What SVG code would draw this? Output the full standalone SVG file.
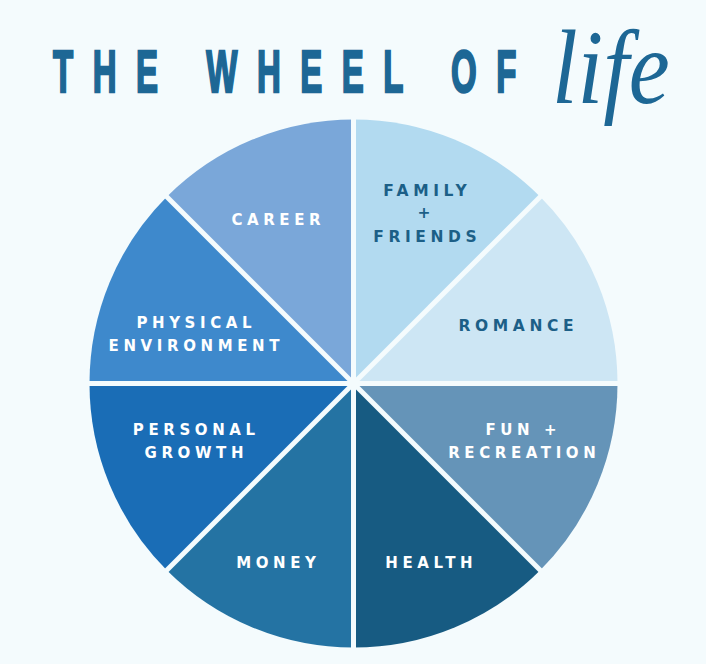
<svg xmlns="http://www.w3.org/2000/svg" width="706" height="664" viewBox="0 0 706 664">
  <style>
    .title { font-family: "Liberation Sans", Arial, sans-serif; font-weight: 700; fill: #1d6795; stroke: #1d6795; stroke-width: 2.4; stroke-linejoin: miter; }
    .script { font-family: "Liberation Serif", "Times New Roman", serif; font-style: italic; fill: #1d6795; }
    .lbl { font-family: "DejaVu Sans", "Liberation Sans", sans-serif; font-weight: 700; font-size: 15px; letter-spacing: 4.6px; text-anchor: middle; fill: #ffffff; }
    .dark { fill: #1c5f87; font-size: 15.5px; letter-spacing: 4.6px; }
    .div { stroke: #f4fbfd; stroke-width: 5; }
  </style>
  <rect width="706" height="664" fill="#f4fbfd"/>

  <g id="title">
    <text class="title" font-size="60" letter-spacing="35.5" transform="translate(53,92) scale(0.55,1)">THE WHEEL OF</text>
    <text class="script" font-size="106" transform="translate(552,103) scale(0.87,1)">life</text>
  </g>

  <g id="career">
    <path d="M353.5,383.5 L353.5,119.5 A264,264 0 0 0 166.8,196.8 Z" fill="#7aa7d9"/>
    <text class="lbl" x="278.3" y="225">CAREER</text>
  </g>
  <g id="physical-environment">
    <path d="M353.5,383.5 L166.8,196.8 A264,264 0 0 0 89.5,383.5 Z" fill="#3e89cc"/>
    <text class="lbl" x="196.3" y="328">PHYSICAL</text>
    <text class="lbl" x="196.3" y="351">ENVIRONMENT</text>
  </g>
  <g id="personal-growth">
    <path d="M353.5,383.5 L89.5,383.5 A264,264 0 0 0 166.8,570.2 Z" fill="#1a6db6"/>
    <text class="lbl" x="196.3" y="435">PERSONAL</text>
    <text class="lbl" x="196.3" y="458">GROWTH</text>
  </g>
  <g id="money">
    <path d="M353.5,383.5 L166.8,570.2 A264,264 0 0 0 353.5,647.5 Z" fill="#2473a3"/>
    <text class="lbl" x="278.3" y="568">MONEY</text>
  </g>
  <g id="health">
    <path d="M353.5,383.5 L353.5,647.5 A264,264 0 0 0 540.2,570.2 Z" fill="#175b82"/>
    <text class="lbl" x="431.3" y="568">HEALTH</text>
  </g>
  <g id="fun-recreation">
    <path d="M353.5,383.5 L540.2,570.2 A264,264 0 0 0 617.5,383.5 Z" fill="#6594b8"/>
    <text class="lbl" x="523.3" y="435">FUN +</text>
    <text class="lbl" x="524.3" y="458">RECREATION</text>
  </g>
  <g id="romance">
    <path d="M353.5,383.5 L617.5,383.5 A264,264 0 0 0 540.2,196.8 Z" fill="#cde6f4"/>
    <text class="lbl dark" x="518.3" y="331">ROMANCE</text>
  </g>
  <g id="family-friends">
    <path d="M353.5,383.5 L540.2,196.8 A264,264 0 0 0 353.5,119.5 Z" fill="#b2daf0"/>
    <text class="lbl dark" x="427.3" y="196">FAMILY</text>
    <text class="lbl dark" x="426.3" y="218">+</text>
    <text class="lbl dark" x="427.3" y="242">FRIENDS</text>
  </g>

  <g id="connectors">
    <line class="div" x1="353.5" y1="114" x2="353.5" y2="653"/>
    <line class="div" x1="84" y1="383.5" x2="623" y2="383.5"/>
    <line class="div" x1="162" y1="192" x2="545" y2="575"/>
    <line class="div" x1="162" y1="575" x2="545" y2="192"/>
  </g>
</svg>
